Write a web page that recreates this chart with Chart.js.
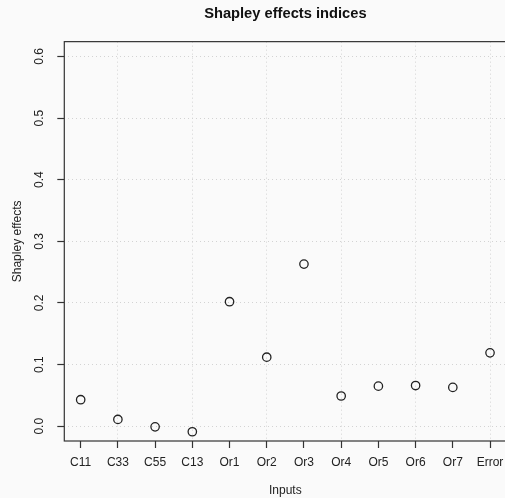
<!DOCTYPE html>
<html>
<head>
<meta charset="utf-8">
<script src="https://cdn.jsdelivr.net/npm/chart.js@4"></script>
<style>
  html,body{margin:0;padding:0;background:#fafafa;overflow:hidden;}
  #wrap{width:530px;height:498px;position:relative;}
</style>
</head>
<body>
<div id="wrap"><canvas id="c"></canvas></div>
<script>
/* ---- data ---- */
const categories = ['C11','C33','C55','C13','Or1','Or2','Or3','Or4','Or5','Or6','Or7','Error'];
const shapley = [0.043, 0.011, -0.001, -0.009, 0.202, 0.112, 0.263, 0.049, 0.065, 0.066, 0.063, 0.119];
const yTicks = [0, 0.1, 0.2, 0.3, 0.4, 0.5, 0.6];

const FONT = "'Liberation Sans','Arial',sans-serif";
Chart.defaults.font.family = FONT;
Chart.defaults.font.size = 12;
Chart.defaults.color = '#222';

const GRID = '#d3d3d3';
const INK = '#333';

/* box around plot + rotated y labels, R style */
const rStyle = {
  id:'rStyle',
  afterDraw(chart){
    const {ctx, chartArea:a, scales:{y}} = chart;
    ctx.save();
    ctx.strokeStyle = INK; ctx.lineWidth = 1.2;
    ctx.strokeRect(a.left, a.top, a.right - a.left, a.bottom - a.top);
    ctx.fillStyle = '#222';
    ctx.font = '12px ' + FONT;
    ctx.textAlign = 'center'; ctx.textBaseline = 'middle';
    yTicks.forEach(v=>{
      const py = y.getPixelForValue(v);
      ctx.save();
      ctx.translate(40, py);
      ctx.rotate(-Math.PI/2);
      ctx.fillText(v.toFixed(1), 0, 0);
      ctx.restore();
    });
    ctx.restore();
  }
};

new Chart(document.getElementById('c'), {
  type:'scatter',
  data:{datasets:[{
    data: shapley.map((v,i)=>({x:i+1, y:v})),
    pointStyle:'circle', pointRadius:4.2, pointHoverRadius:4.2,
    borderColor:'#222', borderWidth:1.3, backgroundColor:'rgba(0,0,0,0)'
  }]},
  options:{
    responsive:true, maintainAspectRatio:false, animation:false,
    layout:{padding:{left:0, right:23.6, top:0, bottom:0}},
    plugins:{
      legend:{display:false}, tooltip:{enabled:false},
      title:{display:true, fullSize:false, text:'Shapley effects indices', color:'#111',
        font:{size:14.7, weight:'bold'}, padding:{top:5, bottom:19}}
    },
    scales:{
      x:{
        type:'linear', min:0.56, max:12.44,
        afterBuildTicks: s => { s.ticks = categories.map((_,i)=>({value:i+1})); },
        afterFit: s => { s.height = 57; },
        ticks:{autoSkip:false, maxRotation:0, minRotation:0, padding:7,
          callback:(v)=>categories[v-1]},
        grid:{color: c => (c.tick && c.tick.value % 2 === 0) ? GRID : 'rgba(0,0,0,0)',
          tickColor:INK, tickLength:7, tickWidth:1.2, lineWidth:1},
        border:{display:false, dash:[1,3]},
        title:{display:true, text:'Inputs', font:{size:12}, padding:{top:0, bottom:0}}
      },
      y:{
        min:-0.024, max:0.624,
        afterBuildTicks: s => { s.ticks = yTicks.map(v=>({value:v})); },
        afterFit: s => { s.width = 64.3; },
        ticks:{display:false},
        grid:{color:GRID, tickColor:INK, tickLength:7, tickWidth:1.2, lineWidth:1},
        border:{display:false, dash:[1,3]},
        title:{display:true, text:'Shapley effects', font:{size:12}, padding:{top:10, bottom:0}}
      }
    }
  },
  plugins:[rStyle]
});
</script>
</body>
</html>
